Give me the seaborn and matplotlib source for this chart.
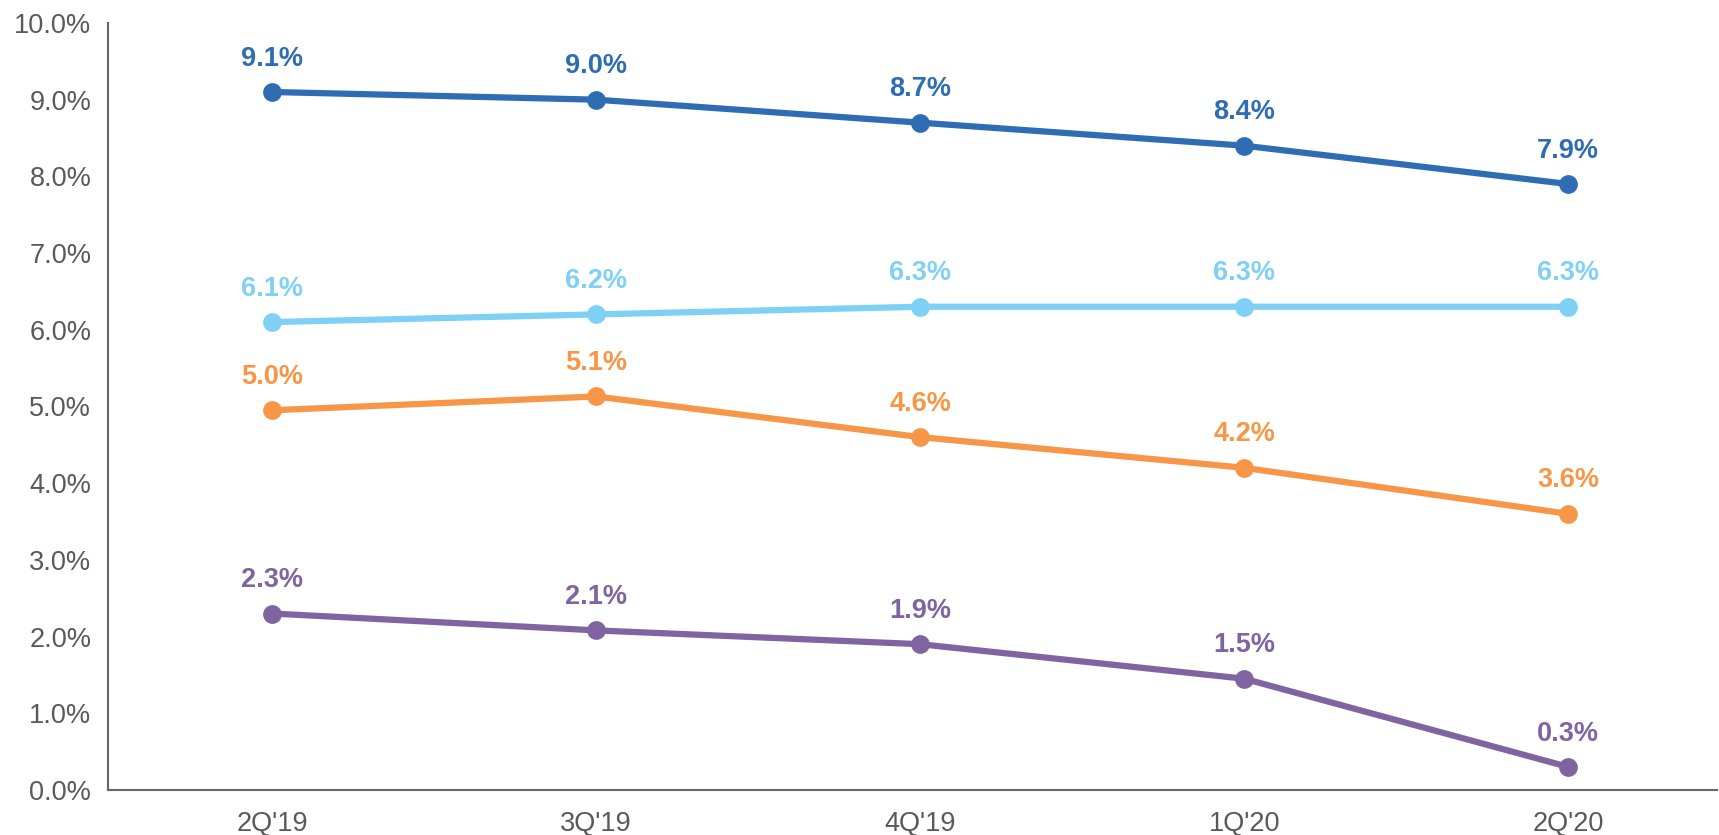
import pandas as pd
import numpy as np
import seaborn as sns
import matplotlib.pyplot as plt
from matplotlib.ticker import FuncFormatter

quarters = ["2Q'19", "3Q'19", "4Q'19", "1Q'20", "2Q'20"]
blue_vals = [9.1, 9.0, 8.7, 8.4, 7.9]
light_vals = [6.1, 6.2, 6.3, 6.3, 6.3]
orange_vals = [4.95, 5.13, 4.6, 4.2, 3.6]
purple_vals = [2.3, 2.08, 1.9, 1.45, 0.3]
blue_labels = ["9.1%", "9.0%", "8.7%", "8.4%", "7.9%"]
light_labels = ["6.1%", "6.2%", "6.3%", "6.3%", "6.3%"]
orange_labels = ["5.0%", "5.1%", "4.6%", "4.2%", "3.6%"]
purple_labels = ["2.3%", "2.1%", "1.9%", "1.5%", "0.3%"]

series = [
    ("s1", blue_vals, blue_labels, "#2E6DB4"),
    ("s2", light_vals, light_labels, "#7FD0F5"),
    ("s3", orange_vals, orange_labels, "#F79646"),
    ("s4", purple_vals, purple_labels, "#8064A2"),
]

rows = []
for name, vals, labs, col in series:
    for q, v in zip(quarters, vals):
        rows.append({"quarter": q, "value": v, "series": name})
df = pd.DataFrame(rows)

sns.set_style("white")
plt.rcParams["font.family"] = ["Liberation Sans", "DejaVu Sans"]

fig = plt.figure(figsize=(17.19, 8.35), dpi=100)
ax = fig.add_axes([0.0628, 0.054, 0.9362, 0.9185])

palette = {name: col for name, vals, labs, col in series}
sns.lineplot(data=df, x="quarter", y="value", hue="series", palette=palette,
             marker="o", markersize=13.5, linewidth=4.5, markeredgewidth=0,
             legend=False, ax=ax, sort=False)

# value labels above each point
for name, vals, labs, col in series:
    for i, (v, lab) in enumerate(zip(vals, labs)):
        ax.annotate(lab, (i, v), xytext=(0, 24), textcoords="offset points",
                    ha="center", va="center", fontsize=19.5, fontweight="bold",
                    color=col)

ax.set_ylim(0, 10)
ax.set_xlim(-0.506, 4.46)
ax.set_yticks(np.arange(0, 10.5, 1))
ax.yaxis.set_major_formatter(FuncFormatter(lambda v, p: f"{v:.1f}%"))
ax.set_xlabel("")
ax.set_ylabel("")
ax.tick_params(axis="both", length=0, labelsize=19.5, labelcolor="#595959")
ax.tick_params(axis="x", pad=15)
ax.tick_params(axis="y", pad=12)
for s in ["top", "right"]:
    ax.spines[s].set_visible(False)
for s in ["left", "bottom"]:
    ax.spines[s].set_color("#666666")
    ax.spines[s].set_linewidth(1.5)

fig.savefig("out.png", dpi=100)
